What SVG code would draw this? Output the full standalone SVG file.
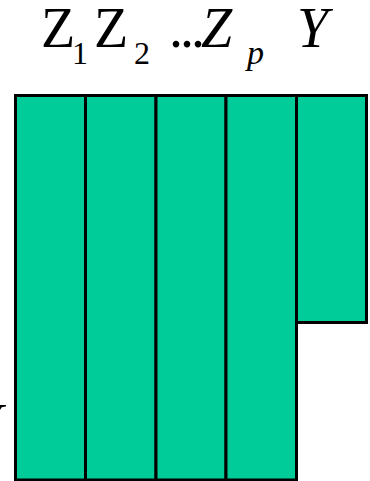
<svg xmlns="http://www.w3.org/2000/svg" width="370" height="481" viewBox="0 0 370 481">
<style>
.col{fill:#00CC99;stroke:#000;stroke-width:3}
</style>
<rect width="370" height="481" fill="#fff"/>
<g id="labels" font-family="Liberation Serif, Times New Roman, serif" fill="#000">
<text x="41" y="47" font-size="56">Z</text>
<text x="72" y="64" font-size="32">1</text>
<text x="94" y="47" font-size="56">Z</text>
<text x="134" y="64" font-size="32">2</text>
<text x="169" y="47" font-size="56" letter-spacing="-3">...</text>
<text x="201" y="47" font-size="56" font-style="italic">Z</text>
<text x="247" y="64" font-size="34" font-style="italic">p</text>
<text x="297" y="47" font-size="56" font-style="italic">Y</text>
</g>
<g id="columns">
<rect id="z1" class="col" x="15.5" y="95.5" width="70" height="384.5"/>
<rect id="z2" class="col" x="85.5" y="95.5" width="70.5" height="384.5"/>
<rect id="z3" class="col" x="156" y="95.5" width="70" height="384.5"/>
<rect id="zp" class="col" x="226" y="95.5" width="70.5" height="384.5"/>
<rect id="y" class="col" x="296.5" y="95.5" width="70" height="227"/>
</g>
<text x="-30" y="443" font-size="56" font-style="italic" font-family="Liberation Serif, Times New Roman, serif">Y</text>
</svg>
